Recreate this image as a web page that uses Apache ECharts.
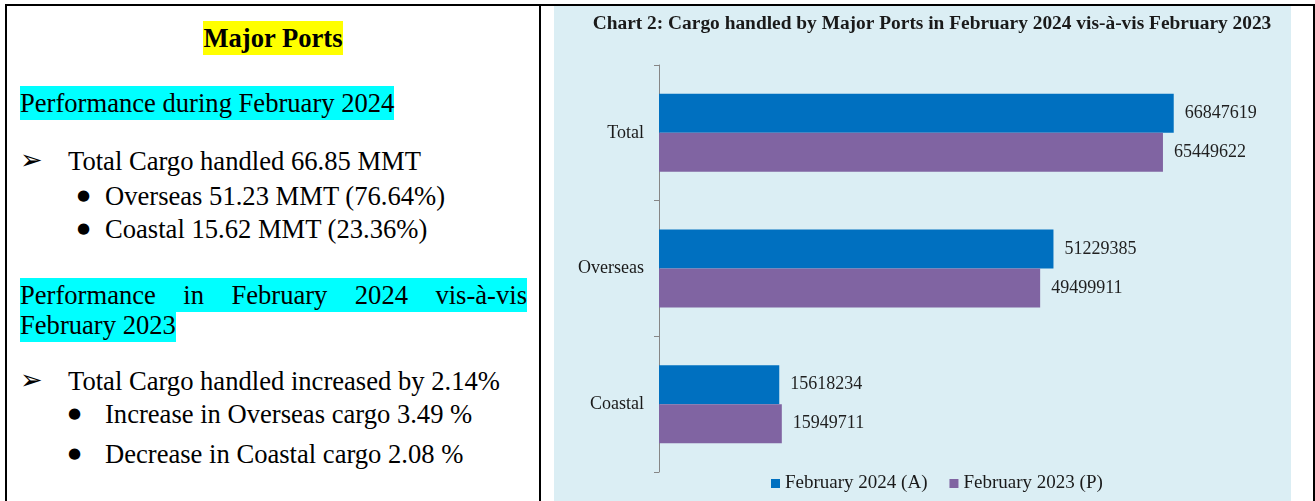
<!DOCTYPE html>
<html>
<head>
<meta charset="utf-8">
<title>Major Ports</title>
<script src="https://cdn.jsdelivr.net/npm/echarts@6/dist/echarts.min.js"></script>
<style>
  html, body {
    margin: 0;
    padding: 0;
    background: #fff;
  }
  #page {
    position: relative;
    width: 1315px;
    height: 501px;
    overflow: hidden;
    font-family: "Liberation Serif", "Times New Roman", serif;
    color: #000;
  }
  .rule {
    position: absolute;
    background: #000;
  }
  .line {
    position: absolute;
    font-size: 26.6px;
    line-height: 30px;
    white-space: nowrap;
  }
  .hl-y {
    background: #ffff00;
    padding: 2px 0;
  }
  .hl-c {
    background: #00ffff;
    padding: 2px 0;
  }
  .arrow {
    position: absolute;
    font-family: "DejaVu Sans", sans-serif;
    font-size: 27px;
    line-height: 30px;
  }
  .dot {
    position: absolute;
    font-family: "DejaVu Sans", sans-serif;
    font-size: 15px;
    line-height: 30px;
  }
  /* 两端对齐的段落 */
  .para {
    position: absolute;
    font-size: 26.6px;
    line-height: 30px;
    text-align: justify;
  }
  #chartBox {
    position: absolute;
    left: 554px;
    top: 6px;
    width: 737px;
    height: 495px;
    background: #dbeef4;
  }
  #chart {
    width: 737px;
    height: 495px;
  }
</style>
</head>
<body>
<div id="page">
  <!-- 表格边框 -->
  <div class="rule" style="left:5px;top:4px;width:1310px;height:2px;"></div>
  <div class="rule" style="left:5px;top:4px;width:2px;height:497px;"></div>
  <div class="rule" style="left:539px;top:4px;width:2px;height:497px;"></div>
  <div class="rule" style="left:1313px;top:4px;width:2px;height:497px;"></div>

  <!-- 左侧文字 -->
  <div class="line" style="left:7px;width:532px;top:22.7px;text-align:center;font-weight:bold;">
    <span class="hl-y">Major Ports</span>
  </div>
  <div class="line" style="left:20px;top:87.7px;">
    <span class="hl-c">Performance during February 2024</span>
  </div>

  <div class="arrow" style="left:20px;top:145px;">&#10146;</div>
  <div class="line" style="left:68px;top:146px;">Total Cargo handled 66.85 MMT</div>
  <div class="dot" style="left:77px;top:180px;">&#9679;</div>
  <div class="line" style="left:105px;top:181px;">Overseas 51.23 MMT (76.64%)</div>
  <div class="dot" style="left:77px;top:213px;">&#9679;</div>
  <div class="line" style="left:105px;top:214px;">Coastal 15.62 MMT (23.36%)</div>

  <div class="para" style="left:20px;top:280px;width:507px;">
    <span class="hl-c">Performance in February 2024 vis-à-vis February 2023</span>
  </div>

  <div class="arrow" style="left:20px;top:365px;">&#10146;</div>
  <div class="line" style="left:68px;top:366px;">Total Cargo handled increased by 2.14%</div>
  <div class="dot" style="left:68px;top:398px;">&#9679;</div>
  <div class="line" style="left:105px;top:399px;">Increase in Overseas cargo 3.49 %</div>
  <div class="dot" style="left:68px;top:438px;">&#9679;</div>
  <div class="line" style="left:105px;top:439px;">Decrease in Coastal cargo 2.08 %</div>

  <!-- 右侧图表 -->
  <div id="chartBox"><div id="chart"></div></div>
</div>

<script>
// 数据
const categories = ["Total", "Overseas", "Coastal"];
const seriesNames = ["February 2024 (A)", "February 2023 (P)"];
const feb2024 = [66847619, 51229385, 15618234];
const feb2023 = [65449622, 49499911, 15949711];

const serif = "Liberation Serif";

let mychart = echarts.init(document.getElementById("chart"));

const labelStyle = {
  show: true,
  position: "right",
  distance: 11,
  color: "#1f1f1f",
  fontFamily: serif,
  fontSize: 18,
  formatter: (p) => String(p.value),
};

mychart.setOption({
  animation: false,
  title: {
    text: "Chart 2: Cargo handled by Major Ports in February 2024 vis-à-vis February 2023",
    left: 373,
    top: 3,
    textAlign: "center",
    textStyle: {
      fontFamily: serif,
      fontWeight: "bold",
      fontSize: 19.4,
      color: "#1a1a1a",
    },
  },
  legend: {
    data: seriesNames,
    left: 212,
    top: 463,
    icon: "rect",
    itemWidth: 9,
    itemHeight: 9,
    itemGap: 22,
    textStyle: {
      fontFamily: serif,
      fontSize: 19,
      color: "#1a1a1a",
    },
  },
  grid: {
    left: 105,
    top: 59,
    width: 616,
    height: 407,
  },
  xAxis: {
    type: "value",
    min: 0,
    max: 80000000,
    show: false,
  },
  yAxis: {
    type: "category",
    data: categories,
    inverse: true,
    axisLine: { lineStyle: { color: "#868686", width: 1 } },
    axisTick: { show: true, length: 5, lineStyle: { color: "#868686" } },
    axisLabel: {
      margin: 15,
      fontFamily: serif,
      fontSize: 18,
      color: "#1a1a1a",
    },
    splitLine: { show: false },
  },
  series: [
    {
      name: seriesNames[0],
      type: "bar",
      data: feb2024,
      barWidth: 39,
      barGap: "0%",
      itemStyle: { color: "#0070c0" },
      label: labelStyle,
    },
    {
      name: seriesNames[1],
      type: "bar",
      data: feb2023,
      barWidth: 39,
      barGap: "0%",
      itemStyle: { color: "#8064a2" },
      label: labelStyle,
    },
  ],
});
</script>
</body>
</html>
